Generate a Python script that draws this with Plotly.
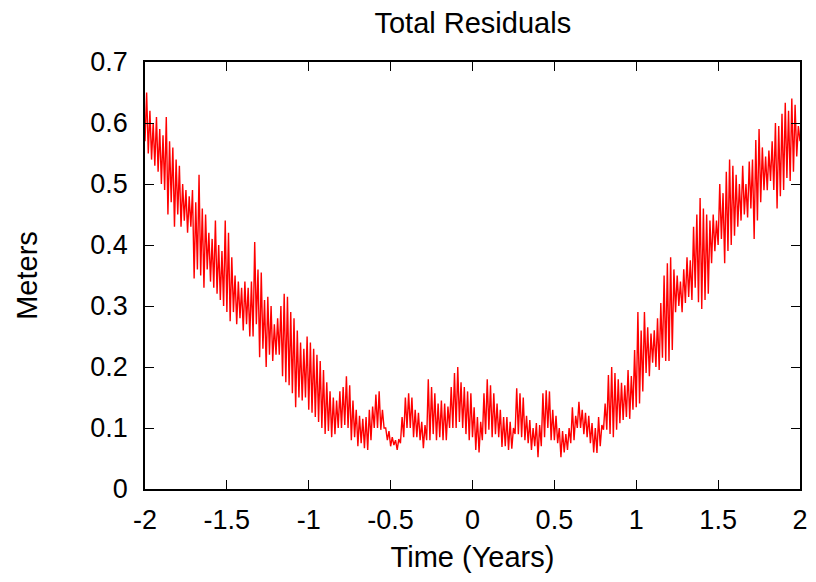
import plotly.graph_objects as go

# Time axis: starts at -2 years, one sample every 0.01 years (401 samples)
t_start = -2.0
t_step = 0.01

residuals = [
    0.57, 0.65, 0.55, 0.62, 0.54, 0.60, 0.53, 0.61, 0.52, 0.59,
    0.50, 0.58, 0.49, 0.61, 0.45, 0.57, 0.47, 0.56, 0.43, 0.54,
    0.45, 0.53, 0.43, 0.50, 0.44, 0.49, 0.42, 0.48, 0.43, 0.49,
    0.345, 0.47, 0.36, 0.515, 0.35, 0.46, 0.33, 0.45, 0.36, 0.42,
    0.34, 0.41, 0.33, 0.44, 0.32, 0.40, 0.31, 0.39, 0.30, 0.44,
    0.29, 0.42, 0.275, 0.38, 0.29, 0.35, 0.27, 0.34, 0.28, 0.33,
    0.26, 0.34, 0.27, 0.33, 0.25, 0.34, 0.25, 0.405, 0.27, 0.36,
    0.216, 0.355, 0.23, 0.31, 0.20, 0.315, 0.22, 0.30, 0.21, 0.27,
    0.22, 0.28, 0.22, 0.30, 0.185, 0.32, 0.175, 0.315, 0.17, 0.29,
    0.157, 0.28, 0.134, 0.26, 0.15, 0.24, 0.145, 0.23, 0.15, 0.25,
    0.13, 0.24, 0.125, 0.23, 0.118, 0.22, 0.11, 0.21, 0.10, 0.195,
    0.09, 0.175, 0.095, 0.16, 0.085, 0.15, 0.09, 0.145, 0.10, 0.16,
    0.10, 0.167, 0.105, 0.185, 0.10, 0.17, 0.08, 0.145, 0.085, 0.13,
    0.07, 0.12, 0.075, 0.115, 0.067, 0.118, 0.064, 0.13, 0.08, 0.135,
    0.10, 0.155, 0.10, 0.16, 0.097, 0.13, 0.10, 0.10, 0.08, 0.095,
    0.07, 0.085, 0.072, 0.08, 0.064, 0.082, 0.075, 0.118, 0.085, 0.15,
    0.10, 0.157, 0.10, 0.15, 0.085, 0.13, 0.085, 0.125, 0.08, 0.11,
    0.067, 0.105, 0.08, 0.18, 0.08, 0.167, 0.09, 0.157, 0.08, 0.14,
    0.085, 0.145, 0.08, 0.14, 0.08, 0.135, 0.10, 0.167, 0.10, 0.19,
    0.10, 0.20, 0.11, 0.175, 0.10, 0.167, 0.09, 0.16, 0.08, 0.157,
    0.085, 0.134, 0.064, 0.118, 0.06, 0.11, 0.08, 0.157, 0.09, 0.18,
    0.097, 0.17, 0.085, 0.157, 0.09, 0.14, 0.085, 0.13, 0.069, 0.118,
    0.07, 0.118, 0.064, 0.11, 0.066, 0.10, 0.09, 0.165, 0.09, 0.157,
    0.085, 0.15, 0.08, 0.12, 0.075, 0.113, 0.064, 0.10, 0.07, 0.108,
    0.052, 0.105, 0.07, 0.157, 0.085, 0.162, 0.10, 0.16, 0.08, 0.13,
    0.08, 0.12, 0.075, 0.10, 0.052, 0.095, 0.06, 0.09, 0.064, 0.10,
    0.075, 0.134, 0.08, 0.12, 0.10, 0.143, 0.10, 0.13, 0.09, 0.125,
    0.085, 0.12, 0.075, 0.108, 0.06, 0.10, 0.059, 0.118, 0.07, 0.105,
    0.097, 0.14, 0.097, 0.187, 0.09, 0.20, 0.085, 0.19, 0.097, 0.18,
    0.108, 0.174, 0.113, 0.17, 0.118, 0.195, 0.115, 0.185, 0.13, 0.228,
    0.134, 0.29, 0.14, 0.26, 0.16, 0.29, 0.19, 0.265, 0.185, 0.255,
    0.207, 0.26, 0.20, 0.28, 0.195, 0.305, 0.215, 0.35, 0.21, 0.37,
    0.21, 0.38, 0.228, 0.36, 0.29, 0.35, 0.30, 0.34, 0.29, 0.36,
    0.305, 0.38, 0.315, 0.375, 0.31, 0.43, 0.33, 0.45, 0.306, 0.477,
    0.295, 0.46, 0.31, 0.45, 0.32, 0.44, 0.37, 0.45, 0.39, 0.44,
    0.40, 0.50, 0.41, 0.485, 0.37, 0.52, 0.39, 0.54, 0.40, 0.53,
    0.415, 0.515, 0.43, 0.50, 0.44, 0.53, 0.45, 0.50, 0.445, 0.537,
    0.46, 0.54, 0.41, 0.572, 0.44, 0.59, 0.47, 0.56, 0.49, 0.545,
    0.49, 0.555, 0.505, 0.57, 0.49, 0.60, 0.46, 0.595, 0.48, 0.615,
    0.49, 0.633, 0.51, 0.62, 0.505, 0.64, 0.52, 0.63, 0.545, 0.595,
    0.57,
]

x_ticks = [-2, -1.5, -1, -0.5, 0, 0.5, 1, 1.5, 2]
x_tick_labels = ["-2", "-1.5", "-1", "-0.5", "0", "0.5", "1", "1.5", "2"]
y_ticks = [0, 0.1, 0.2, 0.3, 0.4, 0.5, 0.6, 0.7]
y_tick_labels = ["0", "0.1", "0.2", "0.3", "0.4", "0.5", "0.6", "0.7"]

FONT = "Liberation Sans, Arial, sans-serif"
FS = 27
FT = 29

fig = go.Figure()
fig.add_trace(go.Scatter(
    x0=t_start, dx=t_step, y=residuals,
    mode="lines",
    line=dict(color="#ff0000", width=1.4),
    showlegend=False,
    hoverinfo="skip",
))

axis_common = dict(
    showline=True, linecolor="black", linewidth=1.5, mirror="allticks",
    ticks="inside", ticklen=9, tickwidth=1.2, tickcolor="black",
    showgrid=False, zeroline=False, automargin=False,
    tickfont=dict(family=FONT, size=FS, color="black"),
)

# the page body adds an 8px offset, so the figure is sized/margined to compensate
fig.update_layout(
    width=800, height=570,
    paper_bgcolor="white", plot_bgcolor="white",
    margin=dict(l=137, r=8, t=54, b=89),
    title=dict(text="Total Residuals", xref="container", yref="container",
               x=0.581, xanchor="center", y=0.974, yanchor="middle",
               automargin=False,
               font=dict(family=FONT, size=FT, color="black")),
    xaxis=dict(range=[-2, 2], tickvals=x_ticks, ticktext=x_tick_labels,
               title=dict(text="Time (Years)", standoff=13,
                          font=dict(family=FONT, size=FT, color="black")),
               ticklabelstandoff=6,
               **axis_common),
    yaxis=dict(range=[0, 0.7], tickvals=y_ticks, ticktext=y_tick_labels,
               title=dict(text="Meters", standoff=44,
                          font=dict(family=FONT, size=FT, color="black")),
               ticklabelstandoff=10,
               **axis_common),
)

fig.write_html("out.html")
